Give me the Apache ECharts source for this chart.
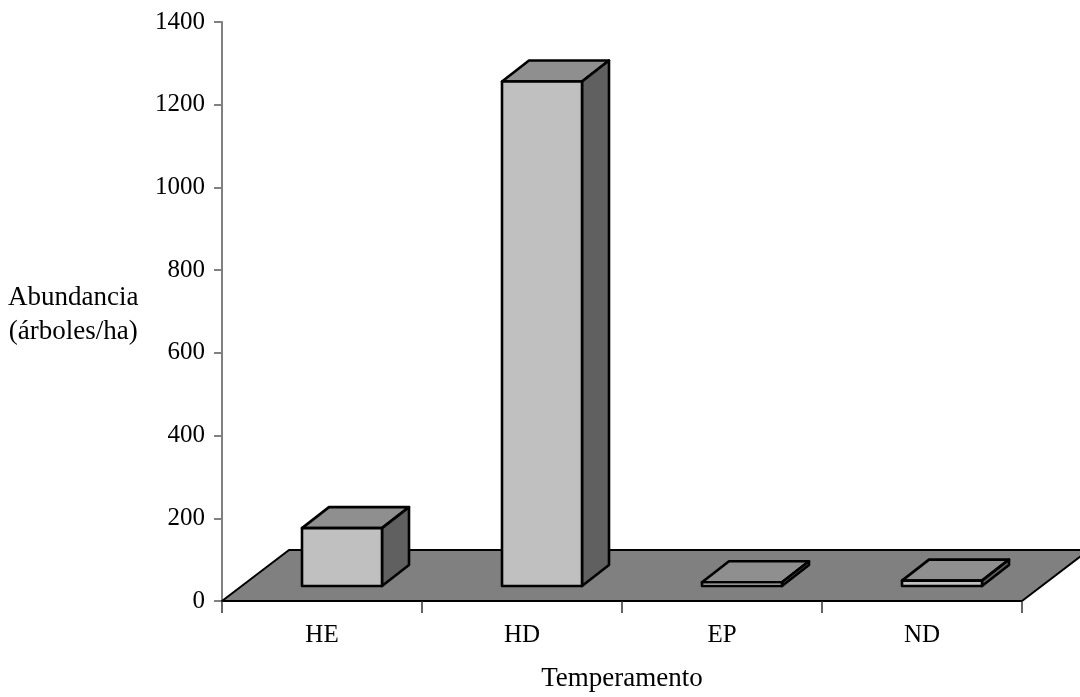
<!DOCTYPE html>
<html>
<head>
<meta charset="utf-8">
<script src="https://cdn.jsdelivr.net/npm/echarts@6/dist/echarts.min.js"></script>
<style>
html,body{margin:0;padding:0;background:#fff;}
#c{width:1080px;height:697px;}
</style>
</head>
<body>
<div id="c"></div>
<script>
var categories = ['HE', 'HD', 'EP', 'ND'];
var values = [140, 1220, 9, 13];
var yTicks = [0, 200, 400, 600, 800, 1000, 1200, 1400];
var yAxisName = ['Abundancia', '(árboles/ha)'];
var xAxisName = 'Temperamento';

var FONT = '"Liberation Serif","Times New Roman",serif';
// 3D projection constants (pixels)
var GAP_DX = 20, GAP_DY = -15;   // floor front edge -> bar front face
var BAR_DX = 27, BAR_DY = -21;   // bar depth
var BAR_W = 0.4;                 // fraction of category band

var chart = echarts.init(document.getElementById('c'));

function floorItem(params, api) {
  var band = api.size([1, 0])[0];
  var p0 = api.coord([0, 0]);
  var p3 = api.coord([categories.length - 1, 0]);
  var x0 = p0[0] - band / 2, x1 = p3[0] + band / 2, y = p0[1];
  var dx = GAP_DX * 2 + BAR_DX, dy = GAP_DY * 2 + BAR_DY;
  return {
    type: 'polygon',
    shape: { points: [[x0, y], [x1, y], [x1 + dx, y + dy], [x0 + dx, y + dy]] },
    style: { fill: '#808080', stroke: '#000', lineWidth: 2, lineJoin: 'round' }
  };
}

function barItem(params, api) {
  var idx = api.value(0);
  var band = api.size([1, 0])[0];
  var base = api.coord([idx, 0]);
  var top = api.coord([idx, api.value(1)]);
  var w = band * BAR_W;
  var xl = base[0] - w / 2 + GAP_DX, xr = base[0] + w / 2 + GAP_DX;
  var yb = base[1] + GAP_DY, yt = top[1] + GAP_DY;
  var st = { stroke: '#000', lineWidth: 2.6, lineJoin: 'round' };
  return {
    type: 'group',
    children: [
      { type: 'polygon', shape: { points: [[xl, yt], [xr, yt], [xr + BAR_DX, yt + BAR_DY], [xl + BAR_DX, yt + BAR_DY]] },
        style: Object.assign({ fill: '#8f8f8f' }, st) },
      { type: 'polygon', shape: { points: [[xr, yt], [xr, yb], [xr + BAR_DX, yb + BAR_DY], [xr + BAR_DX, yt + BAR_DY]] },
        style: Object.assign({ fill: '#606060' }, st) },
      { type: 'rect', shape: { x: xl, y: yt, width: xr - xl, height: yb - yt },
        style: Object.assign({ fill: '#c0c0c0' }, st) }
    ]
  };
}

chart.setOption({
  backgroundColor: '#ffffff',
  animation: false,
  grid: { left: 222, right: 58, top: 22, bottom: 91, containLabel: false },
  xAxis: {
    type: 'category',
    data: categories,
    boundaryGap: true,
    axisLine: { show: false },
    axisTick: { show: true, length: 12, alignWithLabel: false, lineStyle: { color: '#333', width: 1.5 } },
    axisLabel: { margin: 22, fontFamily: FONT, fontSize: 25, color: '#000' },
    name: xAxisName,
    nameLocation: 'middle',
    nameGap: 64,
    nameTextStyle: { fontFamily: FONT, fontSize: 27, color: '#000' },
    z: 10
  },
  yAxis: {
    type: 'value',
    min: yTicks[0],
    max: yTicks[yTicks.length - 1],
    interval: yTicks[1] - yTicks[0],
    axisLine: { show: true, lineStyle: { color: '#808080', width: 2 } },
    axisTick: { show: true, length: 8, lineStyle: { color: '#808080', width: 2 } },
    axisLabel: { margin: 17, fontFamily: FONT, fontSize: 25, color: '#000',
      formatter: function (v) { return String(v); } },
    splitLine: { show: false }
  },
  graphic: [{
    type: 'text',
    left: 8,
    top: 281,
    style: {
      text: yAxisName.join('\n'),
      font: '27px ' + FONT,
      fill: '#000',
      textAlign: 'center',
      lineHeight: 34
    }
  }],
  series: [
    { type: 'custom', renderItem: floorItem, data: [[0, 0]], z: 1, silent: true, clip: false },
    { type: 'custom', renderItem: barItem, data: categories.map(function (c, i) { return [i, values[i]]; }), z: 2, silent: true, clip: false }
  ]
});
</script>
</body>
</html>
